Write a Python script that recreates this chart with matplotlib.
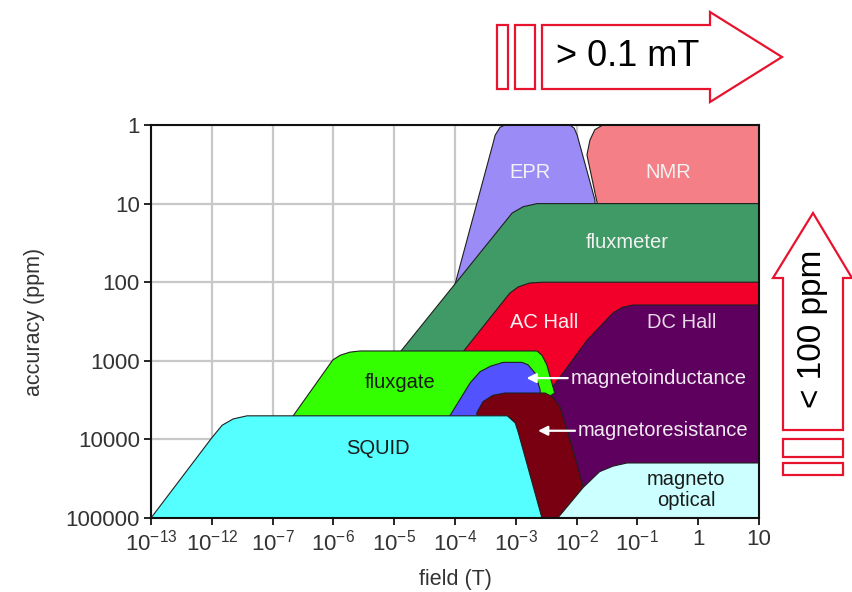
import numpy as np
import matplotlib
matplotlib.use("Agg")
import matplotlib.pyplot as plt
from matplotlib.patches import Polygon

plt.rcParams['font.family'] = ['Liberation Sans', 'DejaVu Sans']
plt.rcParams['mathtext.fontset'] = 'custom'
plt.rcParams['mathtext.rm'] = 'Liberation Sans'
plt.rcParams['mathtext.it'] = 'Liberation Sans'

# ---- axis categories ----
x_tick_labels = ['10$^{-13}$', '10$^{-12}$', '10$^{-7}$', '10$^{-6}$', '10$^{-5}$',
                 '10$^{-4}$', '10$^{-3}$', '10$^{-2}$', '10$^{-1}$', '1', '10']
y_tick_values = [1, 10, 100, 1000, 10000, 100000]
y_tick_labels = ['1', '10', '100', '1000', '10000', '100000']

# ---- region outlines: x = field tick index, e = log10(accuracy ppm) ----
epr_x = [4.94, 5.62, 5.66, 5.74, 5.82, 6.89, 6.96, 7.01, 7.30, 7.35]
epr_e = [2.20, 0.25, 0.13, 0.03, 0.00, 0.00, 0.04, 0.13, 0.95, 1.50]

nmr_x = [7.34, 7.17, 7.22, 7.30, 7.43, 10.0, 10.0]
nmr_e = [1.00, 0.38, 0.19, 0.06, 0.00, 0.00, 1.00]

fluxmeter_x = [3.93, 5.94, 6.12, 6.35, 10.0, 10.0]
fluxmeter_e = [3.05, 1.12, 1.04, 1.00, 1.00, 3.05]

achall_x = [4.50, 5.90, 6.04, 6.23, 6.45, 10.0, 10.0]
achall_e = [3.50, 2.14, 2.06, 2.01, 2.00, 2.00, 3.50]

dchall_x = [4.86, 6.61, 7.17, 7.60, 7.75, 7.93, 10.0, 10.0]
dchall_e = [5.00, 3.33, 2.74, 2.39, 2.32, 2.29, 2.29, 5.00]

fluxgate_x = [2.32, 2.99, 3.11, 3.27, 3.44, 6.35, 6.43, 6.51, 6.64, 6.56, 5.60, 5.30]
fluxgate_e = [3.72, 2.99, 2.93, 2.89, 2.875, 2.875, 2.93, 3.05, 3.41, 3.45, 3.45, 3.72]

minduct_x = [4.90, 5.25, 5.41, 5.58, 5.79, 6.10, 6.20, 6.32, 6.40, 6.42]
minduct_e = [3.72, 3.28, 3.14, 3.07, 3.02, 3.02, 3.05, 3.16, 3.37, 3.72]

mresist_x = [5.30, 5.36, 5.46, 5.62, 5.82, 6.48, 6.61, 6.73, 6.94, 7.09, 7.25]
mresist_e = [5.00, 3.66, 3.52, 3.44, 3.41, 3.41, 3.46, 3.59, 4.13, 4.55, 5.00]

moptic_x = [6.69, 7.11, 7.38, 7.60, 7.83, 10.0, 10.0]
moptic_e = [5.00, 4.61, 4.41, 4.34, 4.30, 4.30, 5.00]

squid_x = [0.00, 1.00, 1.17, 1.35, 1.58, 5.86, 5.99, 6.04, 6.43]
squid_e = [5.00, 3.98, 3.82, 3.74, 3.70, 3.70, 3.79, 3.91, 5.00]

regions = [
    ('EPR', epr_x, epr_e, '#9b8bf6'),
    ('NMR', nmr_x, nmr_e, '#f47f86'),
    ('fluxmeter', fluxmeter_x, fluxmeter_e, '#3f9a66'),
    ('AC Hall', achall_x, achall_e, '#f2002a'),
    ('DC Hall', dchall_x, dchall_e, '#5e005e'),
    ('fluxgate', fluxgate_x, fluxgate_e, '#33ff00'),
    ('magnetoinductance', minduct_x, minduct_e, '#5252ff'),
    ('magnetoresistance', mresist_x, mresist_e, '#780010'),
    ('magneto optical', moptic_x, moptic_e, '#ccffff'),
    ('SQUID', squid_x, squid_e, '#55ffff'),
]

# label positions (x index, log10 ppm), colors
labels = [
    ('EPR', 6.23, 0.60, '#f2f2f2'),
    ('NMR', 8.50, 0.60, '#f2f2f2'),
    ('fluxmeter', 7.83, 1.49, '#f2f2f2'),
    ('AC Hall', 6.46, 2.51, '#f2f2f2'),
    ('DC Hall', 8.73, 2.51, '#e8d8e8'),
    ('fluxgate', 4.10, 3.28, '#1a1a1a'),
    ('SQUID', 3.73, 4.11, '#1a1a1a'),
    ('magneto\noptical', 8.80, 4.64, '#1a1a1a'),
]

W, H = 853, 592
fig = plt.figure(figsize=(W / 100, H / 100), dpi=100)
ax = fig.add_axes([151 / W, 1 - 518 / H, (759 - 151) / W, (518 - 125) / H])

ax.set_yscale('log')
ax.set_xlim(0, 10)
ax.set_ylim(1e5, 1)
ax.set_axisbelow(True)
ax.grid(True, color='#c8c8c8', linewidth=1.6)

for name, xs, es, col in regions:
    ax.fill(xs, 10 ** np.array(es), facecolor=col, edgecolor='#202020',
            linewidth=0.8, zorder=2)

for txt, x, e, col in labels:
    ax.text(x, 10 ** e, txt, color=col, fontsize=14.5, ha='center', va='center',
            zorder=5, linespacing=1.15)

# pointer labels
ax.annotate('', xy=(6.13, 10 ** 3.22), xytext=(6.90, 10 ** 3.22),
            arrowprops=dict(arrowstyle='-|>', color='white', lw=1.6,
                            mutation_scale=14), zorder=6)
ax.text(6.90, 10 ** 3.22, 'magnetoinductance', color='#f2eaf2', fontsize=14.5,
        ha='left', va='center', zorder=6)
ax.annotate('', xy=(6.32, 10 ** 3.89), xytext=(7.02, 10 ** 3.89),
            arrowprops=dict(arrowstyle='-|>', color='white', lw=1.6,
                            mutation_scale=14), zorder=6)
ax.text(7.02, 10 ** 3.89, 'magnetoresistance', color='#f2eaf2', fontsize=14.5,
        ha='left', va='center', zorder=6)

ax.set_xticks(range(len(x_tick_labels)))
ax.set_xticklabels(x_tick_labels)
ax.set_yticks(y_tick_values)
ax.set_yticklabels(y_tick_labels)
ax.minorticks_off()
ax.tick_params(axis='both', direction='out', length=5, width=1.2,
               labelsize=16, labelcolor='#333333', pad=3)
for sp in ax.spines.values():
    sp.set_linewidth(1.5)
    sp.set_color('#111111')
    sp.set_zorder(7)

ax.set_xlabel('field (T)', fontsize=15.5, color='#333333', labelpad=10)
ax.set_ylabel('accuracy (ppm)', fontsize=15.5, color='#333333', labelpad=15)

# ---- decorative red arrows in figure pixel coordinates ----
def fpts(pts):
    return [(px / W, 1 - py / H) for px, py in pts]

red = '#e8142e'
top_arrow = [(542, 25), (710, 25), (710, 12), (782, 57), (710, 102), (710, 89), (542, 89)]
fig.patches.append(Polygon(fpts(top_arrow), closed=True, fill=False, edgecolor=red,
                           linewidth=1.6, transform=fig.transFigure))
for x0, x1 in [(497, 508), (515, 535)]:
    fig.patches.append(Polygon(fpts([(x0, 25), (x1, 25), (x1, 89), (x0, 89)]),
                               closed=True, fill=False, edgecolor=red,
                               linewidth=1.6, transform=fig.transFigure))
fig.text(628 / W, 1 - 57 / H, '> 0.1 mT', fontsize=26, ha='center', va='center',
         color='black')

right_arrow = [(783, 430), (783, 278), (773, 278), (813, 213), (852, 278), (843, 278), (843, 430)]
fig.patches.append(Polygon(fpts(right_arrow), closed=True, fill=False, edgecolor=red,
                           linewidth=1.6, transform=fig.transFigure))
for y0, y1 in [(439, 457), (463, 475)]:
    fig.patches.append(Polygon(fpts([(783, y0), (843, y0), (843, y1), (783, y1)]),
                               closed=True, fill=False, edgecolor=red,
                               linewidth=1.6, transform=fig.transFigure))
fig.text(813 / W, 1 - 329 / H, '< 100 ppm', fontsize=24, ha='center', va='center',
         rotation=90, color='black')

fig.savefig('out.png', dpi=100)
